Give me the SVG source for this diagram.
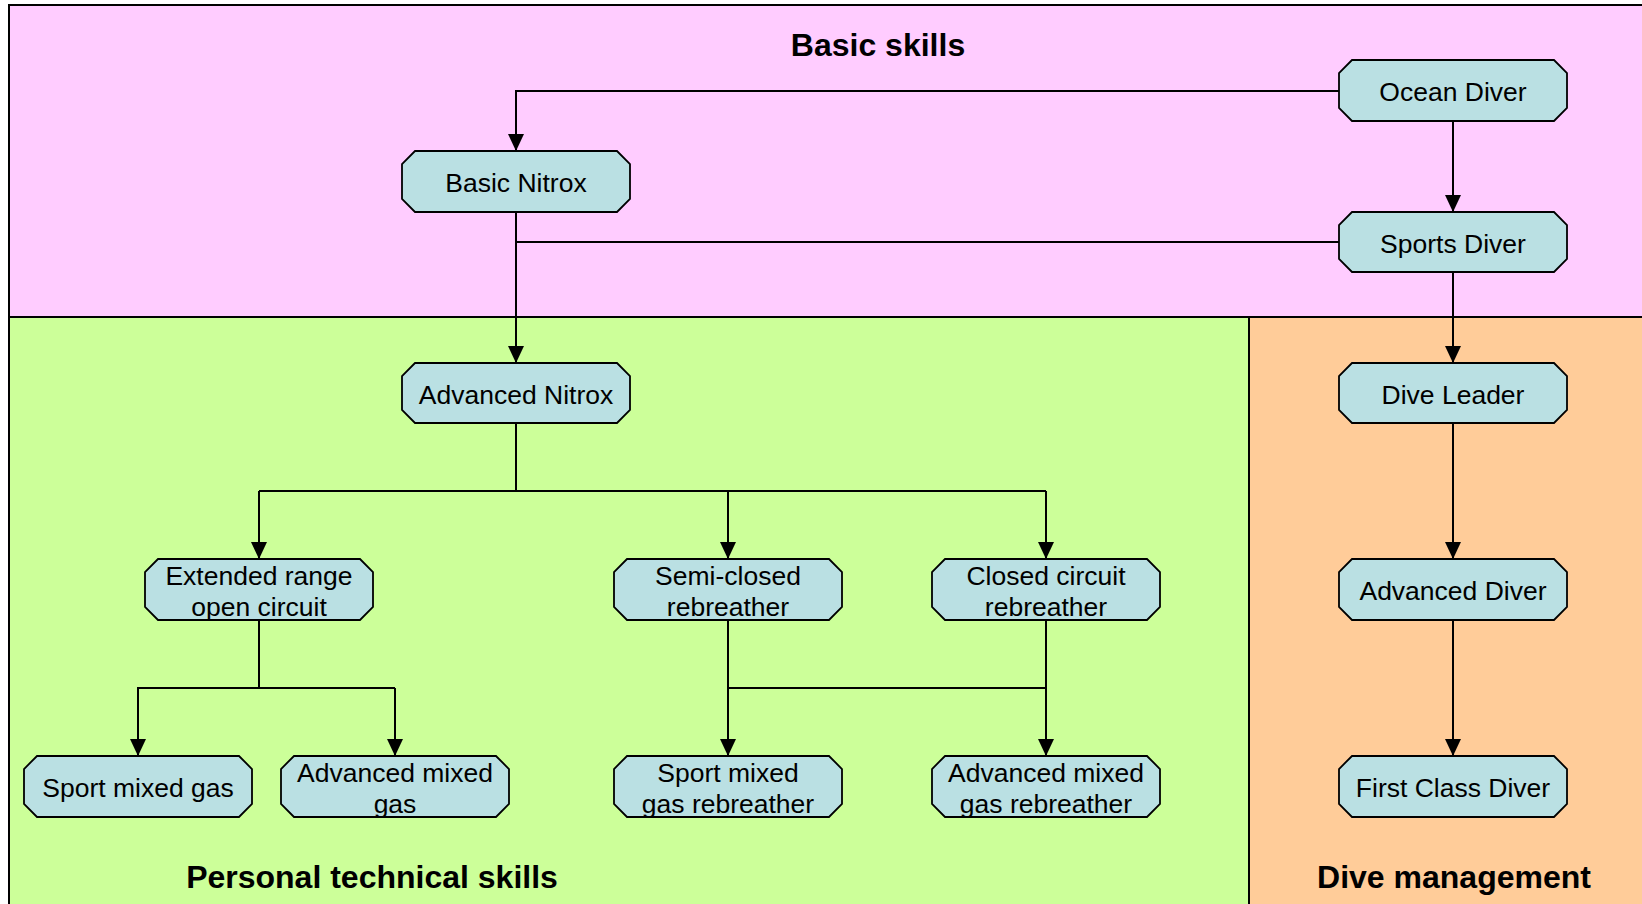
<svg xmlns="http://www.w3.org/2000/svg" width="1642" height="904" viewBox="0 0 1642 904">
<style>
.region{stroke:#000;stroke-width:2}
.node polygon{fill:#BAE0E3;stroke:#000;stroke-width:1.8}
.node text{font-family:"Liberation Sans",Arial,sans-serif;font-size:26.5px;fill:#000;text-anchor:middle}
.title{font-family:"Liberation Sans",Arial,sans-serif;font-size:32px;font-weight:bold;fill:#000;text-anchor:middle}
.conn{fill:none;stroke:#000;stroke-width:2}
</style>
<defs>
<marker id="arr" markerUnits="userSpaceOnUse" markerWidth="18" markerHeight="18" refX="17" refY="8" orient="auto">
<path d="M0,0 L17,8 L0,16 z" fill="#000"/>
</marker>
</defs>
<rect width="1642" height="904" fill="#fff"/>
<g id="regions">
<rect class="region" x="9" y="5" width="1640" height="312" fill="#FFCCFF"/>
<rect class="region" x="9" y="317" width="1240" height="600" fill="#CCFF99"/>
<rect class="region" x="1249" y="317" width="400" height="600" fill="#FFCC99"/>
<text class="title" x="878" y="56">Basic skills</text>
<text class="title" x="372" y="888">Personal technical skills</text>
<text class="title" x="1454" y="888">Dive management</text>
</g>
<g id="connectors">
<path class="conn" d="M1339,91 H516 V151" marker-end="url(#arr)"/>
<path class="conn" d="M1453,121 V212" marker-end="url(#arr)"/>
<path class="conn" d="M1339,242 H516"/>
<path class="conn" d="M516,212 V363" marker-end="url(#arr)"/>
<path class="conn" d="M1453,272 V363" marker-end="url(#arr)"/>
<path class="conn" d="M1453,423 V559" marker-end="url(#arr)"/>
<path class="conn" d="M1453,620 V756" marker-end="url(#arr)"/>
<path class="conn" d="M516,423 V491"/>
<path class="conn" d="M259,491 H1046"/>
<path class="conn" d="M259,491 V559" marker-end="url(#arr)"/>
<path class="conn" d="M728,491 V559" marker-end="url(#arr)"/>
<path class="conn" d="M1046,491 V559" marker-end="url(#arr)"/>
<path class="conn" d="M259,620 V688"/>
<path class="conn" d="M137,688 H395"/>
<path class="conn" d="M138,688 V756" marker-end="url(#arr)"/>
<path class="conn" d="M395,688 V756" marker-end="url(#arr)"/>
<path class="conn" d="M728,688 H1046"/>
<path class="conn" d="M728,620 V756" marker-end="url(#arr)"/>
<path class="conn" d="M1046,620 V756" marker-end="url(#arr)"/>
</g>
<g id="ocean-diver" class="node">
<polygon points="1352,60 1554,60 1567,73 1567,108 1554,121 1352,121 1339,108 1339,73"/>
<text x="1453" y="101">Ocean Diver</text>
</g>
<g id="basic-nitrox" class="node">
<polygon points="415,151 617,151 630,164 630,199 617,212 415,212 402,199 402,164"/>
<text x="516" y="192">Basic Nitrox</text>
</g>
<g id="sports-diver" class="node">
<polygon points="1352,212 1554,212 1567,225 1567,259 1554,272 1352,272 1339,259 1339,225"/>
<text x="1453" y="252.5">Sports Diver</text>
</g>
<g id="advanced-nitrox" class="node">
<polygon points="415,363 617,363 630,376 630,410 617,423 415,423 402,410 402,376"/>
<text x="516" y="403.5">Advanced Nitrox</text>
</g>
<g id="dive-leader" class="node">
<polygon points="1352,363 1554,363 1567,376 1567,410 1554,423 1352,423 1339,410 1339,376"/>
<text x="1453" y="403.5">Dive Leader</text>
</g>
<g id="extended-range" class="node">
<polygon points="158,559 360,559 373,572 373,607 360,620 158,620 145,607 145,572"/>
<text x="259" y="585">Extended range</text>
<text x="259" y="616">open circuit</text>
</g>
<g id="semi-closed" class="node">
<polygon points="627,559 829,559 842,572 842,607 829,620 627,620 614,607 614,572"/>
<text x="728" y="585">Semi-closed</text>
<text x="728" y="616">rebreather</text>
</g>
<g id="closed-circuit" class="node">
<polygon points="945,559 1147,559 1160,572 1160,607 1147,620 945,620 932,607 932,572"/>
<text x="1046" y="585">Closed circuit</text>
<text x="1046" y="616">rebreather</text>
</g>
<g id="advanced-diver" class="node">
<polygon points="1352,559 1554,559 1567,572 1567,607 1554,620 1352,620 1339,607 1339,572"/>
<text x="1453" y="600">Advanced Diver</text>
</g>
<g id="sport-mixed-gas" class="node">
<polygon points="37,756 239,756 252,769 252,804 239,817 37,817 24,804 24,769"/>
<text x="138" y="796.5">Sport mixed gas</text>
</g>
<g id="advanced-mixed-gas" class="node">
<polygon points="294,756 496,756 509,769 509,804 496,817 294,817 281,804 281,769"/>
<text x="395" y="782">Advanced mixed</text>
<text x="395" y="813">gas</text>
</g>
<g id="sport-mixed-gas-rebreather" class="node">
<polygon points="627,756 829,756 842,769 842,804 829,817 627,817 614,804 614,769"/>
<text x="728" y="782">Sport mixed</text>
<text x="728" y="813">gas rebreather</text>
</g>
<g id="advanced-mixed-gas-rebreather" class="node">
<polygon points="945,756 1147,756 1160,769 1160,804 1147,817 945,817 932,804 932,769"/>
<text x="1046" y="782">Advanced mixed</text>
<text x="1046" y="813">gas rebreather</text>
</g>
<g id="first-class-diver" class="node">
<polygon points="1352,756 1554,756 1567,769 1567,804 1554,817 1352,817 1339,804 1339,769"/>
<text x="1453" y="796.5">First Class Diver</text>
</g>
</svg>
